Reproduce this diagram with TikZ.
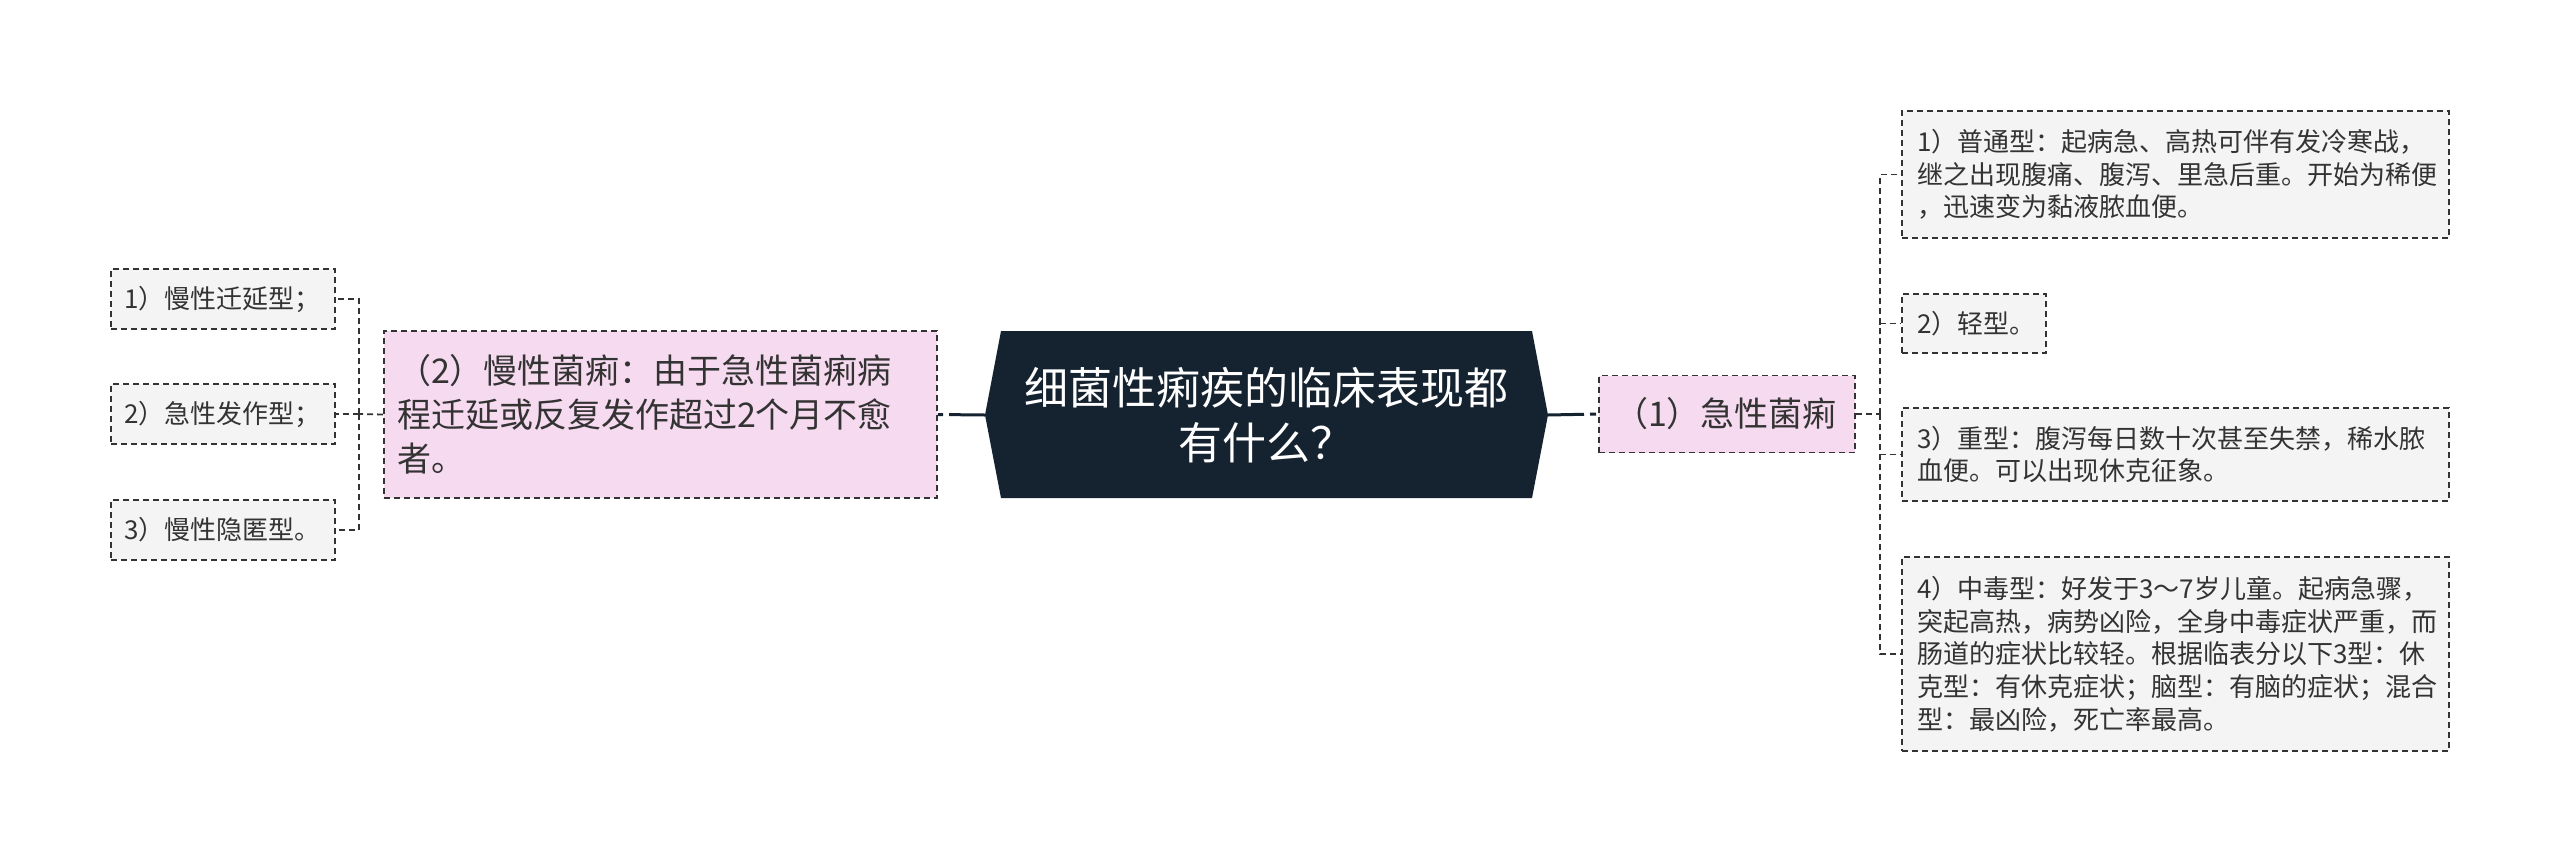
\documentclass[tikz,border=0pt]{standalone}
\usepackage{fontspec}
\newfontfamily\cjk{Noto Sans CJK SC}
\definecolor{bordc}{HTML}{333333}
\definecolor{txt}{HTML}{333333}
\definecolor{leaffill}{HTML}{F4F4F4}
\definecolor{pinkfill}{HTML}{F6DAEF}
\definecolor{navy}{HTML}{15222F}
\begin{document}
\begin{tikzpicture}[x=0.5pt,y=-0.5pt,
  dashedline/.style={draw=bordc, line width=0.9pt, dash pattern=on 3pt off 2pt},
  boxbase/.style={dashedline, text=txt, align=left, inner ysep=0pt},
  leaf/.style={boxbase, fill=leaffill, font=\cjk\fontsize{13}{16.35}\selectfont},
  topic/.style={boxbase, fill=pinkfill, font=\cjk\fontsize{17}{22}\selectfont},
  mainline/.style={draw=navy, line width=1.5pt, dash pattern=on 18pt off 3pt on 3pt off 20pt}]
\useasboundingbox (0,0) rectangle (2560,863);
% central hexagon
\fill[navy] (985,415) -- (1001,331) -- (1532,331) -- (1548,415) -- (1532,498) -- (1001,498) -- cycle;
\node[text=white, align=center, font=\cjk\fontsize{22}{27.5}\selectfont] (c) at (1266,415) {细菌性痢疾的临床表现都\\有什么？};
\coordinate (cL) at (985,415);
\coordinate (cR) at (1548,415);
% left branch
\node[topic, inner xsep=6.5pt, text width=263.5pt, minimum height=83.5pt] (n2) at (660.5,414.5)
  {（2）慢性菌痢：由于急性菌痢病\\程迁延或反复发作超过2个月不愈\\者。};
\node[leaf, inner xsep=6.5pt, text width=99pt, minimum height=30pt] (l1) at (223,299) {1）慢性迁延型；};
\node[leaf, inner xsep=6.5pt, text width=99pt, minimum height=30pt] (l2) at (223,414) {2）急性发作型；};
\node[leaf, inner xsep=6.5pt, text width=99pt, minimum height=30pt] (l3) at (223,530) {3）慢性隐匿型。};
% right branch
\node[topic, inner xsep=7.5pt, text width=113pt, minimum height=38.5pt] (n1) at (1727,414) {（1）急性菌痢};
\node[leaf, inner xsep=7.5pt, text width=258.5pt, minimum height=63.5pt] (r1) at (2175.5,174.5)
  {1）普通型：起病急、高热可伴有发冷寒战，\\继之出现腹痛、腹泻、里急后重。开始为稀便\\，迅速变为黏液脓血便。};
\node[leaf, inner xsep=7.5pt, text width=57pt, minimum height=29.5pt] (r2) at (1974,323.5) {2）轻型。};
\node[leaf, inner xsep=7.5pt, text width=258.5pt, minimum height=46.5pt] (r3) at (2175.5,454.5)
  {3）重型：腹泻每日数十次甚至失禁，稀水脓\\血便。可以出现休克征象。};
\node[leaf, inner xsep=7.5pt, text width=258.5pt, minimum height=97pt] (r4) at (2175.5,654)
  {4）中毒型：好发于3～7岁儿童。起病急骤，\\突起高热，病势凶险，全身中毒症状严重，而\\肠道的症状比较轻。根据临表分以下3型：休\\克型：有休克症状；脑型：有脑的症状；混合\\型：最凶险，死亡率最高。};
% connectors
\draw[mainline] (cL) -- (n2.east);
\draw[mainline] (cR) -- (n1.west);
\coordinate (bl) at (359,414);
\coordinate (br) at (1880,414);
\draw[dashedline] (n2.west) -- (bl);
\draw[dashedline] (bl) |- (l1.east);
\draw[dashedline] (bl) -- (l2.east);
\draw[dashedline] (bl) |- (l3.east);
\draw[dashedline] (n1.east) -- (br);
\draw[dashedline] (br) |- (r1.west);
\draw[dashedline] (br) |- (r2.west);
\draw[dashedline] (br) |- (r3.west);
\draw[dashedline] (br) |- (r4.west);
\end{tikzpicture}
\end{document}
